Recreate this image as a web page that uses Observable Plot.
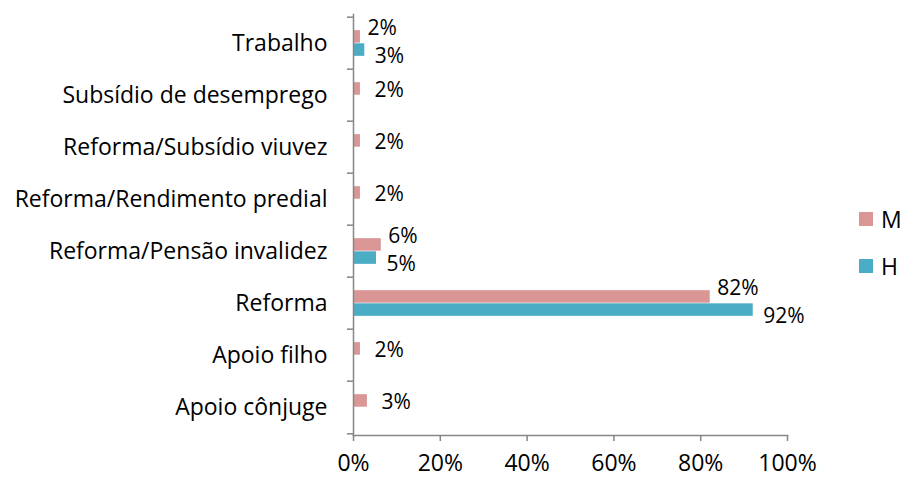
<!DOCTYPE html>
<html><head><meta charset="utf-8">
<script src="https://cdn.jsdelivr.net/npm/d3@7"></script>
<script src="https://cdn.jsdelivr.net/npm/@observablehq/plot@0.6"></script>
<style>
body{margin:0;background:#fff;}
#wrap{position:relative;width:904px;height:477px;font-family:"Open Sans", sans-serif;}
.leg{position:absolute;left:859px;display:flex;align-items:center;font-size:23px;line-height:26px;color:#000;}
.leg span.sw{display:inline-block;width:14px;height:14px;margin-right:8px;}
</style></head><body><div id="wrap"></div>
<script>
const categories = ["Trabalho","Subsídio de desemprego","Reforma/Subsídio viuvez","Reforma/Rendimento predial","Reforma/Pensão invalidez","Reforma","Apoio filho","Apoio cônjuge"];
const seriesNames = ["M","H"];
const valuesM = [1.6,1.6,1.6,1.6,6.4,82.2,1.6,3.2];
const valuesH = [2.6,null,null,null,5.3,92.1,null,null];
const xTicks = [0,20,40,60,80,100];
const seriesColors = ["#D99694","#4BACC6"];

const rowsM = categories.map((c,i)=>({cat:c, series:"M", value:valuesM[i], pair: valuesH[i]!=null})).filter(d=>d.value!=null);
const rowsH = categories.map((c,i)=>({cat:c, series:"H", value:valuesH[i]})).filter(d=>d.value!=null);

const W = 904, H = 477, mt = 14, mb = 42, ml = 353, mr = 117;
const bw = (H - mt - mb) / categories.length;
const axisColor = "#868686";
const fmt = d => Math.round(d) + "%";
const FS = 23, LFS = 21;

const chart = Plot.plot({
  width: W, height: H,
  marginTop: mt, marginBottom: mb, marginLeft: ml, marginRight: mr,
  style: {fontFamily: "'Open Sans', sans-serif", fontSize: FS + "px", color: "#000", background: "#fff", overflow: "visible"},
  x: {domain: [0,100]},
  y: {type: "band", domain: categories, padding: 0},
  color: {domain: seriesNames, range: seriesColors},
  marks: [
    Plot.barX(rowsM, {y: "cat", x: "value", fill: "series", insetTop: bw*0.25, insetBottom: bw*0.5}),
    Plot.barX(rowsH, {y: "cat", x: "value", fill: "series", insetTop: bw*0.5, insetBottom: bw*0.25}),
    Plot.text(rowsM.filter(d=>d.pair), {y: "cat", x: "value", text: d => fmt(d.value), textAnchor: "start", dx: 7, dy: -bw*0.28, fill: "#000", fontSize: LFS}),
    Plot.text(rowsM.filter(d=>!d.pair), {y: "cat", x: "value", text: d => fmt(d.value), textAnchor: "start", dx: 14, dy: -bw*0.1, fill: "#000", fontSize: LFS}),
    Plot.text(rowsH, {y: "cat", x: "value", text: d => fmt(d.value), textAnchor: "start", dx: 10, dy: bw*0.24, fill: "#000", fontSize: LFS}),
    Plot.frame({anchor: "left", stroke: axisColor, strokeWidth: 1.5}),
    Plot.frame({anchor: "bottom", stroke: axisColor, strokeWidth: 1.5}),
    Plot.ruleY(categories, {y: d => d, x1: -1.4, x2: 0, dy: -bw/2, stroke: axisColor, strokeWidth: 1.5}),
    Plot.ruleY(categories.slice(-1), {y: d => d, x1: -1.4, x2: 0, dy: bw/2, stroke: axisColor, strokeWidth: 1.5}),
    Plot.axisY({tickSize: 0, tickPadding: 26, fontSize: FS, fill: "#000", label: null}),
    Plot.axisX({ticks: xTicks, tickFormat: d => d + "%", tickSize: 6, tickPadding: 13, stroke: axisColor, strokeWidth: 1.5, fill: "#000", fontSize: FS, label: null})
  ]
});
const wrap = document.getElementById("wrap");
wrap.appendChild(chart);
seriesNames.forEach((s,i)=>{
  const d = document.createElement("div");
  d.className = "leg";
  d.style.top = (i===0 ? 206 : 253) + "px";
  d.innerHTML = `<span class="sw" style="background:${seriesColors[i]}"></span><span>${s}</span>`;
  wrap.appendChild(d);
});
</script>
</body></html>
